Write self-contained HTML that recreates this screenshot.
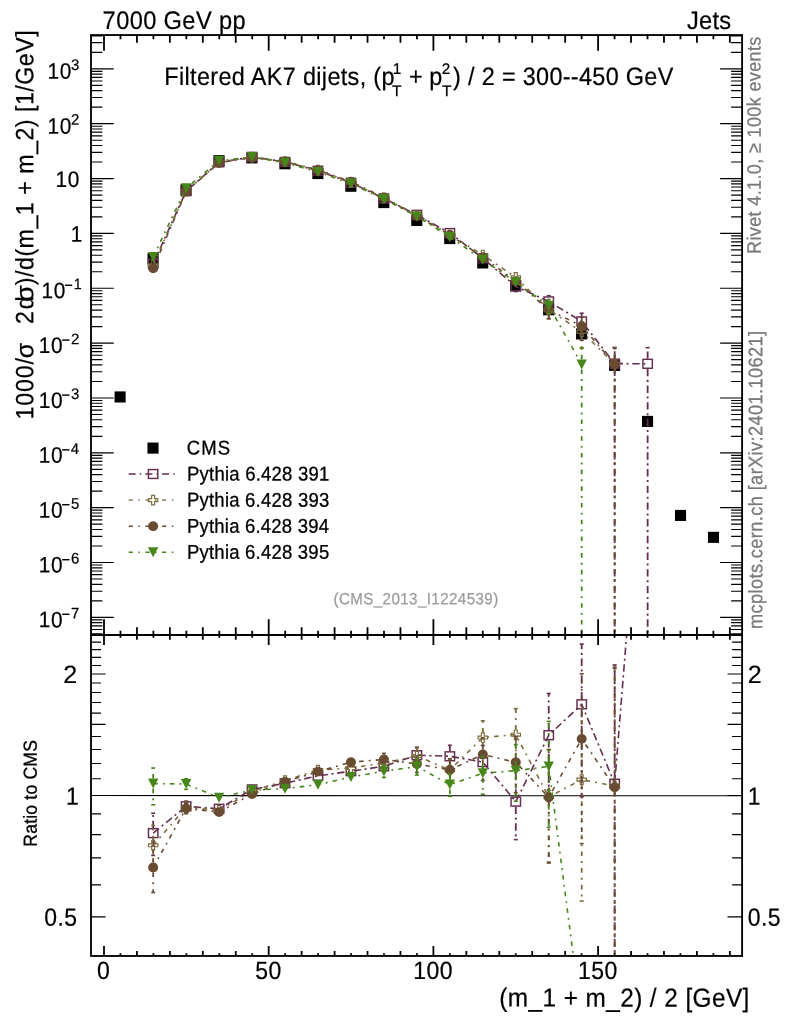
<!DOCTYPE html>
<html lang="en">
<head>
<meta charset="utf-8">
<title>Filtered AK7 dijets</title>
<style>
html,body{margin:0;padding:0;background:#fff;}
body{width:786px;height:1024px;overflow:hidden;font-family:"Liberation Sans",Arial,Helvetica,sans-serif;}
svg{display:block;}
</style>
</head>
<body>
<svg width="786" height="1024" viewBox="0 0 786 1024" font-family="'Liberation Sans', Arial, Helvetica, sans-serif">
<rect width="786" height="1024" fill="#fff"/>
<defs>
<clipPath id="cm"><rect x="91.0" y="35.05" width="651.1" height="599.9000000000001"/></clipPath>
<clipPath id="cr"><rect x="91.0" y="634.95" width="651.1" height="321.02"/></clipPath>
</defs>
<g id="main-data">
<rect x="114.55" y="391.40" width="11.1" height="11.1" fill="#000"/>
<rect x="147.52" y="253.20" width="11.1" height="11.1" fill="#000"/>
<rect x="180.48" y="184.30" width="11.1" height="11.1" fill="#000"/>
<rect x="213.45" y="155.10" width="11.1" height="11.1" fill="#000"/>
<rect x="246.41" y="152.30" width="11.1" height="11.1" fill="#000"/>
<rect x="279.38" y="158.20" width="11.1" height="11.1" fill="#000"/>
<rect x="312.34" y="168.00" width="11.1" height="11.1" fill="#000"/>
<rect x="345.31" y="180.70" width="11.1" height="11.1" fill="#000"/>
<rect x="378.27" y="197.00" width="11.1" height="11.1" fill="#000"/>
<rect x="411.24" y="214.90" width="11.1" height="11.1" fill="#000"/>
<rect x="444.20" y="233.00" width="11.1" height="11.1" fill="#000"/>
<rect x="477.17" y="257.40" width="11.1" height="11.1" fill="#000"/>
<rect x="510.13" y="280.20" width="11.1" height="11.1" fill="#000"/>
<rect x="543.10" y="304.20" width="11.1" height="11.1" fill="#000"/>
<rect x="576.06" y="328.40" width="11.1" height="11.1" fill="#000"/>
<rect x="609.03" y="359.80" width="11.1" height="11.1" fill="#000"/>
<rect x="641.99" y="415.85" width="11.1" height="11.1" fill="#000"/>
<rect x="674.96" y="509.90" width="11.1" height="11.1" fill="#000"/>
<rect x="707.92" y="531.80" width="11.1" height="11.1" fill="#000"/>
<g clip-path="url(#cm)" stroke="#652d4f" stroke-width="1.6" fill="none">
<polyline points="153.17,263.72 186.13,191.17 219.10,162.31 252.06,156.88 285.03,161.93 317.99,170.73 350.96,182.80 383.92,198.43 416.89,214.82 449.85,233.07 482.82,258.26 515.78,286.44 548.75,301.40 581.71,321.40 614.68,363.60 647.64,363.80" stroke-dasharray="7.4 3.6 2.1 3.6"/>
<line x1="515.78" y1="291.44" x2="515.78" y2="291.60" stroke-width="1.8" stroke-dasharray="7.4 3.6 2.1 3.6"/>
<line x1="513.78" y1="291.60" x2="517.78" y2="291.60"/>
<line x1="548.75" y1="296.40" x2="548.75" y2="295.73" stroke-width="1.8" stroke-dasharray="7.4 3.6 2.1 3.6"/>
<line x1="546.75" y1="295.73" x2="550.75" y2="295.73"/>
<line x1="548.75" y1="306.40" x2="548.75" y2="308.87" stroke-width="1.8" stroke-dasharray="7.4 3.6 2.1 3.6"/>
<line x1="546.75" y1="308.87" x2="550.75" y2="308.87"/>
<line x1="581.71" y1="316.40" x2="581.71" y2="313.22" stroke-width="1.8" stroke-dasharray="7.4 3.6 2.1 3.6"/>
<line x1="579.71" y1="313.22" x2="583.71" y2="313.22"/>
<line x1="581.71" y1="326.40" x2="581.71" y2="333.97" stroke-width="1.8" stroke-dasharray="7.4 3.6 2.1 3.6"/>
<line x1="579.71" y1="333.97" x2="583.71" y2="333.97"/>
<line x1="614.68" y1="358.60" x2="614.68" y2="347.45" stroke-width="1.8" stroke-dasharray="7.4 3.6 2.1 3.6"/>
<line x1="612.68" y1="347.45" x2="616.68" y2="347.45"/>
<line x1="614.68" y1="368.60" x2="614.68" y2="634.95" stroke-width="1.8" stroke-dasharray="7.4 3.6 2.1 3.6"/>
<line x1="647.64" y1="358.80" x2="647.64" y2="347.65" stroke-width="1.8" stroke-dasharray="7.4 3.6 2.1 3.6"/>
<line x1="645.64" y1="347.65" x2="649.64" y2="347.65"/>
<line x1="647.64" y1="368.80" x2="647.64" y2="634.95" stroke-width="1.8" stroke-dasharray="7.4 3.6 2.1 3.6"/>
</g>
<g clip-path="url(#cm)">
<rect x="148.47" y="259.27" width="9.4" height="8.9" fill="none" stroke="#652d4f" stroke-width="1.45"/>
<rect x="181.43" y="186.72" width="9.4" height="8.9" fill="none" stroke="#652d4f" stroke-width="1.45"/>
<rect x="214.40" y="157.86" width="9.4" height="8.9" fill="none" stroke="#652d4f" stroke-width="1.45"/>
<rect x="247.36" y="152.43" width="9.4" height="8.9" fill="none" stroke="#652d4f" stroke-width="1.45"/>
<rect x="280.33" y="157.48" width="9.4" height="8.9" fill="none" stroke="#652d4f" stroke-width="1.45"/>
<rect x="313.29" y="166.28" width="9.4" height="8.9" fill="none" stroke="#652d4f" stroke-width="1.45"/>
<rect x="346.26" y="178.35" width="9.4" height="8.9" fill="none" stroke="#652d4f" stroke-width="1.45"/>
<rect x="379.22" y="193.98" width="9.4" height="8.9" fill="none" stroke="#652d4f" stroke-width="1.45"/>
<rect x="412.19" y="210.37" width="9.4" height="8.9" fill="none" stroke="#652d4f" stroke-width="1.45"/>
<rect x="445.15" y="228.62" width="9.4" height="8.9" fill="none" stroke="#652d4f" stroke-width="1.45"/>
<rect x="478.12" y="253.81" width="9.4" height="8.9" fill="none" stroke="#652d4f" stroke-width="1.45"/>
<rect x="511.08" y="281.99" width="9.4" height="8.9" fill="none" stroke="#652d4f" stroke-width="1.45"/>
<rect x="544.05" y="296.95" width="9.4" height="8.9" fill="none" stroke="#652d4f" stroke-width="1.45"/>
<rect x="577.01" y="316.95" width="9.4" height="8.9" fill="none" stroke="#652d4f" stroke-width="1.45"/>
<rect x="609.98" y="359.15" width="9.4" height="8.9" fill="none" stroke="#652d4f" stroke-width="1.45"/>
<rect x="642.94" y="359.35" width="9.4" height="8.9" fill="none" stroke="#652d4f" stroke-width="1.45"/>
</g>
<g clip-path="url(#cm)" stroke="#7b6c3b" stroke-width="1.6" fill="none">
<polyline points="153.17,265.38 186.13,191.32 219.10,162.52 252.06,157.13 285.03,161.58 317.99,169.94 350.96,182.37 383.92,197.99 416.89,214.93 449.85,234.94 482.82,254.92 515.78,277.34 548.75,309.81 581.71,331.64 614.68,363.91" stroke-dasharray="4.6 5.1 1.9 5.1"/>
<line x1="548.75" y1="304.81" x2="548.75" y2="303.38" stroke-width="1.8" stroke-dasharray="4.6 5.1 1.9 5.1"/>
<line x1="546.75" y1="303.38" x2="550.75" y2="303.38"/>
<line x1="548.75" y1="314.81" x2="548.75" y2="318.65" stroke-width="1.8" stroke-dasharray="4.6 5.1 1.9 5.1"/>
<line x1="546.75" y1="318.65" x2="550.75" y2="318.65"/>
<line x1="581.71" y1="326.64" x2="581.71" y2="321.98" stroke-width="1.8" stroke-dasharray="4.6 5.1 1.9 5.1"/>
<line x1="579.71" y1="321.98" x2="583.71" y2="321.98"/>
<line x1="581.71" y1="336.64" x2="581.71" y2="348.16" stroke-width="1.8" stroke-dasharray="4.6 5.1 1.9 5.1"/>
<line x1="579.71" y1="348.16" x2="583.71" y2="348.16"/>
<line x1="614.68" y1="358.91" x2="614.68" y2="347.76" stroke-width="1.8" stroke-dasharray="4.6 5.1 1.9 5.1"/>
<line x1="612.68" y1="347.76" x2="616.68" y2="347.76"/>
<line x1="614.68" y1="368.91" x2="614.68" y2="634.95" stroke-width="1.8" stroke-dasharray="4.6 5.1 1.9 5.1"/>
</g>
<g clip-path="url(#cm)">
<polygon points="151.72,260.68 154.62,260.68 154.62,263.93 157.87,263.93 157.87,266.83 154.62,266.83 154.62,270.08 151.72,270.08 151.72,266.83 148.47,266.83 148.47,263.93 151.72,263.93" fill="none" stroke="#7b6c3b" stroke-width="1.15"/>
<polygon points="184.68,186.62 187.58,186.62 187.58,189.87 190.83,189.87 190.83,192.77 187.58,192.77 187.58,196.02 184.68,196.02 184.68,192.77 181.43,192.77 181.43,189.87 184.68,189.87" fill="none" stroke="#7b6c3b" stroke-width="1.15"/>
<polygon points="217.65,157.82 220.55,157.82 220.55,161.07 223.80,161.07 223.80,163.97 220.55,163.97 220.55,167.22 217.65,167.22 217.65,163.97 214.40,163.97 214.40,161.07 217.65,161.07" fill="none" stroke="#7b6c3b" stroke-width="1.15"/>
<polygon points="250.61,152.43 253.51,152.43 253.51,155.68 256.76,155.68 256.76,158.58 253.51,158.58 253.51,161.83 250.61,161.83 250.61,158.58 247.36,158.58 247.36,155.68 250.61,155.68" fill="none" stroke="#7b6c3b" stroke-width="1.15"/>
<polygon points="283.58,156.88 286.48,156.88 286.48,160.13 289.73,160.13 289.73,163.03 286.48,163.03 286.48,166.28 283.58,166.28 283.58,163.03 280.33,163.03 280.33,160.13 283.58,160.13" fill="none" stroke="#7b6c3b" stroke-width="1.15"/>
<polygon points="316.54,165.24 319.44,165.24 319.44,168.49 322.69,168.49 322.69,171.39 319.44,171.39 319.44,174.64 316.54,174.64 316.54,171.39 313.29,171.39 313.29,168.49 316.54,168.49" fill="none" stroke="#7b6c3b" stroke-width="1.15"/>
<polygon points="349.51,177.67 352.41,177.67 352.41,180.92 355.66,180.92 355.66,183.82 352.41,183.82 352.41,187.07 349.51,187.07 349.51,183.82 346.26,183.82 346.26,180.92 349.51,180.92" fill="none" stroke="#7b6c3b" stroke-width="1.15"/>
<polygon points="382.47,193.29 385.37,193.29 385.37,196.54 388.62,196.54 388.62,199.44 385.37,199.44 385.37,202.69 382.47,202.69 382.47,199.44 379.22,199.44 379.22,196.54 382.47,196.54" fill="none" stroke="#7b6c3b" stroke-width="1.15"/>
<polygon points="415.44,210.23 418.34,210.23 418.34,213.48 421.59,213.48 421.59,216.38 418.34,216.38 418.34,219.63 415.44,219.63 415.44,216.38 412.19,216.38 412.19,213.48 415.44,213.48" fill="none" stroke="#7b6c3b" stroke-width="1.15"/>
<polygon points="448.40,230.24 451.30,230.24 451.30,233.49 454.55,233.49 454.55,236.39 451.30,236.39 451.30,239.64 448.40,239.64 448.40,236.39 445.15,236.39 445.15,233.49 448.40,233.49" fill="none" stroke="#7b6c3b" stroke-width="1.15"/>
<polygon points="481.37,250.22 484.27,250.22 484.27,253.47 487.52,253.47 487.52,256.37 484.27,256.37 484.27,259.62 481.37,259.62 481.37,256.37 478.12,256.37 478.12,253.47 481.37,253.47" fill="none" stroke="#7b6c3b" stroke-width="1.15"/>
<polygon points="514.33,272.64 517.23,272.64 517.23,275.89 520.48,275.89 520.48,278.79 517.23,278.79 517.23,282.04 514.33,282.04 514.33,278.79 511.08,278.79 511.08,275.89 514.33,275.89" fill="none" stroke="#7b6c3b" stroke-width="1.15"/>
<polygon points="547.30,305.11 550.20,305.11 550.20,308.36 553.45,308.36 553.45,311.26 550.20,311.26 550.20,314.51 547.30,314.51 547.30,311.26 544.05,311.26 544.05,308.36 547.30,308.36" fill="none" stroke="#7b6c3b" stroke-width="1.15"/>
<polygon points="580.26,326.94 583.16,326.94 583.16,330.19 586.41,330.19 586.41,333.09 583.16,333.09 583.16,336.34 580.26,336.34 580.26,333.09 577.01,333.09 577.01,330.19 580.26,330.19" fill="none" stroke="#7b6c3b" stroke-width="1.15"/>
<polygon points="613.23,359.21 616.13,359.21 616.13,362.46 619.38,362.46 619.38,365.36 616.13,365.36 616.13,368.61 613.23,368.61 613.23,365.36 609.98,365.36 609.98,362.46 613.23,362.46" fill="none" stroke="#7b6c3b" stroke-width="1.15"/>
</g>
<g clip-path="url(#cm)" stroke="#694b31" stroke-width="1.6" fill="none">
<polyline points="153.17,268.40 186.13,191.46 219.10,162.76 252.06,157.52 285.03,161.74 317.99,170.16 350.96,181.58 383.92,197.50 416.89,216.02 449.85,234.92 482.82,257.23 515.78,281.09 548.75,309.85 581.71,326.11 614.68,364.08" stroke-dasharray="4.6 5.1 1.9 5.1"/>
<line x1="548.75" y1="304.85" x2="548.75" y2="303.36" stroke-width="1.8" stroke-dasharray="4.6 5.1 1.9 5.1"/>
<line x1="546.75" y1="303.36" x2="550.75" y2="303.36"/>
<line x1="548.75" y1="314.85" x2="548.75" y2="318.79" stroke-width="1.8" stroke-dasharray="4.6 5.1 1.9 5.1"/>
<line x1="546.75" y1="318.79" x2="550.75" y2="318.79"/>
<line x1="581.71" y1="321.11" x2="581.71" y2="317.26" stroke-width="1.8" stroke-dasharray="4.6 5.1 1.9 5.1"/>
<line x1="579.71" y1="317.26" x2="583.71" y2="317.26"/>
<line x1="581.71" y1="331.11" x2="581.71" y2="340.35" stroke-width="1.8" stroke-dasharray="4.6 5.1 1.9 5.1"/>
<line x1="579.71" y1="340.35" x2="583.71" y2="340.35"/>
<line x1="614.68" y1="359.08" x2="614.68" y2="347.92" stroke-width="1.8" stroke-dasharray="4.6 5.1 1.9 5.1"/>
<line x1="612.68" y1="347.92" x2="616.68" y2="347.92"/>
<line x1="614.68" y1="369.08" x2="614.68" y2="634.95" stroke-width="1.8" stroke-dasharray="4.6 5.1 1.9 5.1"/>
</g>
<g clip-path="url(#cm)">
<ellipse cx="153.17" cy="268.40" rx="5.0" ry="4.9" fill="#694b31"/>
<ellipse cx="186.13" cy="191.46" rx="5.0" ry="4.9" fill="#694b31"/>
<ellipse cx="219.10" cy="162.76" rx="5.0" ry="4.9" fill="#694b31"/>
<ellipse cx="252.06" cy="157.52" rx="5.0" ry="4.9" fill="#694b31"/>
<ellipse cx="285.03" cy="161.74" rx="5.0" ry="4.9" fill="#694b31"/>
<ellipse cx="317.99" cy="170.16" rx="5.0" ry="4.9" fill="#694b31"/>
<ellipse cx="350.96" cy="181.58" rx="5.0" ry="4.9" fill="#694b31"/>
<ellipse cx="383.92" cy="197.50" rx="5.0" ry="4.9" fill="#694b31"/>
<ellipse cx="416.89" cy="216.02" rx="5.0" ry="4.9" fill="#694b31"/>
<ellipse cx="449.85" cy="234.92" rx="5.0" ry="4.9" fill="#694b31"/>
<ellipse cx="482.82" cy="257.23" rx="5.0" ry="4.9" fill="#694b31"/>
<ellipse cx="515.78" cy="281.09" rx="5.0" ry="4.9" fill="#694b31"/>
<ellipse cx="548.75" cy="309.85" rx="5.0" ry="4.9" fill="#694b31"/>
<ellipse cx="581.71" cy="326.11" rx="5.0" ry="4.9" fill="#694b31"/>
<ellipse cx="614.68" cy="364.08" rx="5.0" ry="4.9" fill="#694b31"/>
</g>
<g clip-path="url(#cm)" stroke="#47871a" stroke-width="1.6" fill="none">
<polyline points="153.17,256.99 186.13,188.14 219.10,160.80 252.06,156.96 285.03,162.68 317.99,171.94 350.96,183.59 383.92,199.10 416.89,216.38 449.85,236.92 482.82,259.77 515.78,282.23 548.75,305.65 581.71,364.40" stroke-dasharray="4.6 5.1 1.9 5.1"/>
<line x1="548.75" y1="300.65" x2="548.75" y2="299.53" stroke-width="1.8" stroke-dasharray="4.6 5.1 1.9 5.1"/>
<line x1="546.75" y1="299.53" x2="550.75" y2="299.53"/>
<line x1="548.75" y1="310.65" x2="548.75" y2="313.91" stroke-width="1.8" stroke-dasharray="4.6 5.1 1.9 5.1"/>
<line x1="546.75" y1="313.91" x2="550.75" y2="313.91"/>
<line x1="581.71" y1="359.40" x2="581.71" y2="348.01" stroke-width="1.8" stroke-dasharray="4.6 5.1 1.9 5.1"/>
<line x1="579.71" y1="348.01" x2="583.71" y2="348.01"/>
<line x1="581.71" y1="369.40" x2="581.71" y2="634.95" stroke-width="1.8" stroke-dasharray="4.6 5.1 1.9 5.1"/>
</g>
<g clip-path="url(#cm)">
<polygon points="147.97,251.99 158.37,251.99 153.17,261.99" fill="#47871a"/>
<polygon points="180.93,183.14 191.33,183.14 186.13,193.14" fill="#47871a"/>
<polygon points="213.90,155.80 224.30,155.80 219.10,165.80" fill="#47871a"/>
<polygon points="246.86,151.96 257.26,151.96 252.06,161.96" fill="#47871a"/>
<polygon points="279.83,157.68 290.23,157.68 285.03,167.68" fill="#47871a"/>
<polygon points="312.79,166.94 323.19,166.94 317.99,176.94" fill="#47871a"/>
<polygon points="345.76,178.59 356.16,178.59 350.96,188.59" fill="#47871a"/>
<polygon points="378.72,194.10 389.12,194.10 383.92,204.10" fill="#47871a"/>
<polygon points="411.69,211.38 422.09,211.38 416.89,221.38" fill="#47871a"/>
<polygon points="444.65,231.92 455.05,231.92 449.85,241.92" fill="#47871a"/>
<polygon points="477.62,254.77 488.02,254.77 482.82,264.77" fill="#47871a"/>
<polygon points="510.58,277.23 520.98,277.23 515.78,287.23" fill="#47871a"/>
<polygon points="543.55,300.65 553.95,300.65 548.75,310.65" fill="#47871a"/>
<polygon points="576.51,359.40 586.91,359.40 581.71,369.40" fill="#47871a"/>
</g>
</g>
<g id="ratio-data">
<line x1="91.0" y1="795.5" x2="742.1" y2="795.8" stroke="#000" stroke-width="1.1"/>
<g clip-path="url(#cr)" stroke="#652d4f" stroke-width="1.6" fill="none">
<polyline points="153.17,833.10 186.13,806.30 219.10,808.80 252.06,789.40 285.03,783.20 317.99,775.80 350.96,771.20 383.92,766.30 416.89,755.20 449.85,756.30 482.82,762.10 515.78,801.60 548.75,735.20 581.71,704.30 614.68,783.70 647.64,373.02" stroke-dasharray="7.4 3.6 2.1 3.6"/>
<line x1="153.17" y1="828.10" x2="153.17" y2="813.25" stroke-width="1.8" stroke-dasharray="7.4 3.6 2.1 3.6"/>
<line x1="151.17" y1="813.25" x2="155.17" y2="813.25"/>
<line x1="153.17" y1="838.10" x2="153.17" y2="855.49" stroke-width="1.8" stroke-dasharray="7.4 3.6 2.1 3.6"/>
<line x1="151.17" y1="855.49" x2="155.17" y2="855.49"/>
<line x1="186.13" y1="801.30" x2="186.13" y2="801.12" stroke-width="1.8" stroke-dasharray="7.4 3.6 2.1 3.6"/>
<line x1="184.13" y1="801.12" x2="188.13" y2="801.12"/>
<line x1="186.13" y1="811.30" x2="186.13" y2="811.64" stroke-width="1.8" stroke-dasharray="7.4 3.6 2.1 3.6"/>
<line x1="184.13" y1="811.64" x2="188.13" y2="811.64"/>
<line x1="383.92" y1="761.30" x2="383.92" y2="760.27" stroke-width="1.8" stroke-dasharray="7.4 3.6 2.1 3.6"/>
<line x1="381.92" y1="760.27" x2="385.92" y2="760.27"/>
<line x1="383.92" y1="771.30" x2="383.92" y2="772.54" stroke-width="1.8" stroke-dasharray="7.4 3.6 2.1 3.6"/>
<line x1="381.92" y1="772.54" x2="385.92" y2="772.54"/>
<line x1="416.89" y1="750.20" x2="416.89" y2="747.15" stroke-width="1.8" stroke-dasharray="7.4 3.6 2.1 3.6"/>
<line x1="414.89" y1="747.15" x2="418.89" y2="747.15"/>
<line x1="416.89" y1="760.20" x2="416.89" y2="763.63" stroke-width="1.8" stroke-dasharray="7.4 3.6 2.1 3.6"/>
<line x1="414.89" y1="763.63" x2="418.89" y2="763.63"/>
<line x1="449.85" y1="751.30" x2="449.85" y2="745.27" stroke-width="1.8" stroke-dasharray="7.4 3.6 2.1 3.6"/>
<line x1="447.85" y1="745.27" x2="451.85" y2="745.27"/>
<line x1="449.85" y1="761.30" x2="449.85" y2="768.07" stroke-width="1.8" stroke-dasharray="7.4 3.6 2.1 3.6"/>
<line x1="447.85" y1="768.07" x2="451.85" y2="768.07"/>
<line x1="482.82" y1="757.10" x2="482.82" y2="745.40" stroke-width="1.8" stroke-dasharray="7.4 3.6 2.1 3.6"/>
<line x1="480.82" y1="745.40" x2="484.82" y2="745.40"/>
<line x1="482.82" y1="767.10" x2="482.82" y2="780.56" stroke-width="1.8" stroke-dasharray="7.4 3.6 2.1 3.6"/>
<line x1="480.82" y1="780.56" x2="484.82" y2="780.56"/>
<line x1="515.78" y1="796.60" x2="515.78" y2="770.39" stroke-width="1.8" stroke-dasharray="7.4 3.6 2.1 3.6"/>
<line x1="513.78" y1="770.39" x2="517.78" y2="770.39"/>
<line x1="515.78" y1="806.60" x2="515.78" y2="839.60" stroke-width="1.8" stroke-dasharray="7.4 3.6 2.1 3.6"/>
<line x1="513.78" y1="839.60" x2="517.78" y2="839.60"/>
<line x1="548.75" y1="730.20" x2="548.75" y2="693.47" stroke-width="1.8" stroke-dasharray="7.4 3.6 2.1 3.6"/>
<line x1="546.75" y1="693.47" x2="550.75" y2="693.47"/>
<line x1="548.75" y1="740.20" x2="548.75" y2="790.09" stroke-width="1.8" stroke-dasharray="7.4 3.6 2.1 3.6"/>
<line x1="546.75" y1="790.09" x2="550.75" y2="790.09"/>
<line x1="581.71" y1="699.30" x2="581.71" y2="644.11" stroke-width="1.8" stroke-dasharray="7.4 3.6 2.1 3.6"/>
<line x1="579.71" y1="644.11" x2="583.71" y2="644.11"/>
<line x1="581.71" y1="709.30" x2="581.71" y2="796.73" stroke-width="1.8" stroke-dasharray="7.4 3.6 2.1 3.6"/>
<line x1="579.71" y1="796.73" x2="583.71" y2="796.73"/>
<line x1="614.68" y1="778.70" x2="614.68" y2="664.93" stroke-width="1.8" stroke-dasharray="7.4 3.6 2.1 3.6"/>
<line x1="612.68" y1="664.93" x2="616.68" y2="664.93"/>
<line x1="614.68" y1="788.70" x2="614.68" y2="955.97" stroke-width="1.8" stroke-dasharray="7.4 3.6 2.1 3.6"/>
</g>
<g clip-path="url(#cr)">
<rect x="148.47" y="828.65" width="9.4" height="8.9" fill="none" stroke="#652d4f" stroke-width="1.45"/>
<rect x="181.43" y="801.85" width="9.4" height="8.9" fill="none" stroke="#652d4f" stroke-width="1.45"/>
<rect x="214.40" y="804.35" width="9.4" height="8.9" fill="none" stroke="#652d4f" stroke-width="1.45"/>
<rect x="247.36" y="784.95" width="9.4" height="8.9" fill="none" stroke="#652d4f" stroke-width="1.45"/>
<rect x="280.33" y="778.75" width="9.4" height="8.9" fill="none" stroke="#652d4f" stroke-width="1.45"/>
<rect x="313.29" y="771.35" width="9.4" height="8.9" fill="none" stroke="#652d4f" stroke-width="1.45"/>
<rect x="346.26" y="766.75" width="9.4" height="8.9" fill="none" stroke="#652d4f" stroke-width="1.45"/>
<rect x="379.22" y="761.85" width="9.4" height="8.9" fill="none" stroke="#652d4f" stroke-width="1.45"/>
<rect x="412.19" y="750.75" width="9.4" height="8.9" fill="none" stroke="#652d4f" stroke-width="1.45"/>
<rect x="445.15" y="751.85" width="9.4" height="8.9" fill="none" stroke="#652d4f" stroke-width="1.45"/>
<rect x="478.12" y="757.65" width="9.4" height="8.9" fill="none" stroke="#652d4f" stroke-width="1.45"/>
<rect x="511.08" y="797.15" width="9.4" height="8.9" fill="none" stroke="#652d4f" stroke-width="1.45"/>
<rect x="544.05" y="730.75" width="9.4" height="8.9" fill="none" stroke="#652d4f" stroke-width="1.45"/>
<rect x="577.01" y="699.85" width="9.4" height="8.9" fill="none" stroke="#652d4f" stroke-width="1.45"/>
<rect x="609.98" y="779.25" width="9.4" height="8.9" fill="none" stroke="#652d4f" stroke-width="1.45"/>
</g>
<g clip-path="url(#cr)" stroke="#7b6c3b" stroke-width="1.6" fill="none">
<polyline points="153.17,845.30 186.13,807.40 219.10,810.30 252.06,791.30 285.03,780.60 317.99,770.00 350.96,768.00 383.92,763.00 416.89,756.00 449.85,770.00 482.82,737.50 515.78,734.70 548.75,797.00 581.71,779.60 614.68,786.00" stroke-dasharray="4.6 5.1 1.9 5.1"/>
<line x1="153.17" y1="840.30" x2="153.17" y2="825.45" stroke-width="1.8" stroke-dasharray="4.6 5.1 1.9 5.1"/>
<line x1="151.17" y1="825.45" x2="155.17" y2="825.45"/>
<line x1="153.17" y1="850.30" x2="153.17" y2="867.69" stroke-width="1.8" stroke-dasharray="4.6 5.1 1.9 5.1"/>
<line x1="151.17" y1="867.69" x2="155.17" y2="867.69"/>
<line x1="186.13" y1="802.40" x2="186.13" y2="802.22" stroke-width="1.8" stroke-dasharray="4.6 5.1 1.9 5.1"/>
<line x1="184.13" y1="802.22" x2="188.13" y2="802.22"/>
<line x1="186.13" y1="812.40" x2="186.13" y2="812.74" stroke-width="1.8" stroke-dasharray="4.6 5.1 1.9 5.1"/>
<line x1="184.13" y1="812.74" x2="188.13" y2="812.74"/>
<line x1="383.92" y1="758.00" x2="383.92" y2="756.97" stroke-width="1.8" stroke-dasharray="4.6 5.1 1.9 5.1"/>
<line x1="381.92" y1="756.97" x2="385.92" y2="756.97"/>
<line x1="383.92" y1="768.00" x2="383.92" y2="769.24" stroke-width="1.8" stroke-dasharray="4.6 5.1 1.9 5.1"/>
<line x1="381.92" y1="769.24" x2="385.92" y2="769.24"/>
<line x1="416.89" y1="751.00" x2="416.89" y2="747.95" stroke-width="1.8" stroke-dasharray="4.6 5.1 1.9 5.1"/>
<line x1="414.89" y1="747.95" x2="418.89" y2="747.95"/>
<line x1="416.89" y1="761.00" x2="416.89" y2="764.43" stroke-width="1.8" stroke-dasharray="4.6 5.1 1.9 5.1"/>
<line x1="414.89" y1="764.43" x2="418.89" y2="764.43"/>
<line x1="449.85" y1="765.00" x2="449.85" y2="758.97" stroke-width="1.8" stroke-dasharray="4.6 5.1 1.9 5.1"/>
<line x1="447.85" y1="758.97" x2="451.85" y2="758.97"/>
<line x1="449.85" y1="775.00" x2="449.85" y2="781.77" stroke-width="1.8" stroke-dasharray="4.6 5.1 1.9 5.1"/>
<line x1="447.85" y1="781.77" x2="451.85" y2="781.77"/>
<line x1="482.82" y1="732.50" x2="482.82" y2="720.80" stroke-width="1.8" stroke-dasharray="4.6 5.1 1.9 5.1"/>
<line x1="480.82" y1="720.80" x2="484.82" y2="720.80"/>
<line x1="482.82" y1="742.50" x2="482.82" y2="755.96" stroke-width="1.8" stroke-dasharray="4.6 5.1 1.9 5.1"/>
<line x1="480.82" y1="755.96" x2="484.82" y2="755.96"/>
<line x1="515.78" y1="729.70" x2="515.78" y2="708.70" stroke-width="1.8" stroke-dasharray="4.6 5.1 1.9 5.1"/>
<line x1="513.78" y1="708.70" x2="517.78" y2="708.70"/>
<line x1="515.78" y1="739.70" x2="515.78" y2="765.24" stroke-width="1.8" stroke-dasharray="4.6 5.1 1.9 5.1"/>
<line x1="513.78" y1="765.24" x2="517.78" y2="765.24"/>
<line x1="548.75" y1="792.00" x2="548.75" y2="749.70" stroke-width="1.8" stroke-dasharray="4.6 5.1 1.9 5.1"/>
<line x1="546.75" y1="749.70" x2="550.75" y2="749.70"/>
<line x1="548.75" y1="802.00" x2="548.75" y2="862.00" stroke-width="1.8" stroke-dasharray="4.6 5.1 1.9 5.1"/>
<line x1="546.75" y1="862.00" x2="550.75" y2="862.00"/>
<line x1="581.71" y1="774.60" x2="581.71" y2="708.57" stroke-width="1.8" stroke-dasharray="4.6 5.1 1.9 5.1"/>
<line x1="579.71" y1="708.57" x2="583.71" y2="708.57"/>
<line x1="581.71" y1="784.60" x2="581.71" y2="901.02" stroke-width="1.8" stroke-dasharray="4.6 5.1 1.9 5.1"/>
<line x1="579.71" y1="901.02" x2="583.71" y2="901.02"/>
<line x1="614.68" y1="781.00" x2="614.68" y2="667.23" stroke-width="1.8" stroke-dasharray="4.6 5.1 1.9 5.1"/>
<line x1="612.68" y1="667.23" x2="616.68" y2="667.23"/>
<line x1="614.68" y1="791.00" x2="614.68" y2="955.97" stroke-width="1.8" stroke-dasharray="4.6 5.1 1.9 5.1"/>
</g>
<g clip-path="url(#cr)">
<polygon points="151.72,840.60 154.62,840.60 154.62,843.85 157.87,843.85 157.87,846.75 154.62,846.75 154.62,850.00 151.72,850.00 151.72,846.75 148.47,846.75 148.47,843.85 151.72,843.85" fill="none" stroke="#7b6c3b" stroke-width="1.15"/>
<polygon points="184.68,802.70 187.58,802.70 187.58,805.95 190.83,805.95 190.83,808.85 187.58,808.85 187.58,812.10 184.68,812.10 184.68,808.85 181.43,808.85 181.43,805.95 184.68,805.95" fill="none" stroke="#7b6c3b" stroke-width="1.15"/>
<polygon points="217.65,805.60 220.55,805.60 220.55,808.85 223.80,808.85 223.80,811.75 220.55,811.75 220.55,815.00 217.65,815.00 217.65,811.75 214.40,811.75 214.40,808.85 217.65,808.85" fill="none" stroke="#7b6c3b" stroke-width="1.15"/>
<polygon points="250.61,786.60 253.51,786.60 253.51,789.85 256.76,789.85 256.76,792.75 253.51,792.75 253.51,796.00 250.61,796.00 250.61,792.75 247.36,792.75 247.36,789.85 250.61,789.85" fill="none" stroke="#7b6c3b" stroke-width="1.15"/>
<polygon points="283.58,775.90 286.48,775.90 286.48,779.15 289.73,779.15 289.73,782.05 286.48,782.05 286.48,785.30 283.58,785.30 283.58,782.05 280.33,782.05 280.33,779.15 283.58,779.15" fill="none" stroke="#7b6c3b" stroke-width="1.15"/>
<polygon points="316.54,765.30 319.44,765.30 319.44,768.55 322.69,768.55 322.69,771.45 319.44,771.45 319.44,774.70 316.54,774.70 316.54,771.45 313.29,771.45 313.29,768.55 316.54,768.55" fill="none" stroke="#7b6c3b" stroke-width="1.15"/>
<polygon points="349.51,763.30 352.41,763.30 352.41,766.55 355.66,766.55 355.66,769.45 352.41,769.45 352.41,772.70 349.51,772.70 349.51,769.45 346.26,769.45 346.26,766.55 349.51,766.55" fill="none" stroke="#7b6c3b" stroke-width="1.15"/>
<polygon points="382.47,758.30 385.37,758.30 385.37,761.55 388.62,761.55 388.62,764.45 385.37,764.45 385.37,767.70 382.47,767.70 382.47,764.45 379.22,764.45 379.22,761.55 382.47,761.55" fill="none" stroke="#7b6c3b" stroke-width="1.15"/>
<polygon points="415.44,751.30 418.34,751.30 418.34,754.55 421.59,754.55 421.59,757.45 418.34,757.45 418.34,760.70 415.44,760.70 415.44,757.45 412.19,757.45 412.19,754.55 415.44,754.55" fill="none" stroke="#7b6c3b" stroke-width="1.15"/>
<polygon points="448.40,765.30 451.30,765.30 451.30,768.55 454.55,768.55 454.55,771.45 451.30,771.45 451.30,774.70 448.40,774.70 448.40,771.45 445.15,771.45 445.15,768.55 448.40,768.55" fill="none" stroke="#7b6c3b" stroke-width="1.15"/>
<polygon points="481.37,732.80 484.27,732.80 484.27,736.05 487.52,736.05 487.52,738.95 484.27,738.95 484.27,742.20 481.37,742.20 481.37,738.95 478.12,738.95 478.12,736.05 481.37,736.05" fill="none" stroke="#7b6c3b" stroke-width="1.15"/>
<polygon points="514.33,730.00 517.23,730.00 517.23,733.25 520.48,733.25 520.48,736.15 517.23,736.15 517.23,739.40 514.33,739.40 514.33,736.15 511.08,736.15 511.08,733.25 514.33,733.25" fill="none" stroke="#7b6c3b" stroke-width="1.15"/>
<polygon points="547.30,792.30 550.20,792.30 550.20,795.55 553.45,795.55 553.45,798.45 550.20,798.45 550.20,801.70 547.30,801.70 547.30,798.45 544.05,798.45 544.05,795.55 547.30,795.55" fill="none" stroke="#7b6c3b" stroke-width="1.15"/>
<polygon points="580.26,774.90 583.16,774.90 583.16,778.15 586.41,778.15 586.41,781.05 583.16,781.05 583.16,784.30 580.26,784.30 580.26,781.05 577.01,781.05 577.01,778.15 580.26,778.15" fill="none" stroke="#7b6c3b" stroke-width="1.15"/>
<polygon points="613.23,781.30 616.13,781.30 616.13,784.55 619.38,784.55 619.38,787.45 616.13,787.45 616.13,790.70 613.23,790.70 613.23,787.45 609.98,787.45 609.98,784.55 613.23,784.55" fill="none" stroke="#7b6c3b" stroke-width="1.15"/>
</g>
<g clip-path="url(#cr)" stroke="#694b31" stroke-width="1.6" fill="none">
<polyline points="153.17,867.50 186.13,808.40 219.10,812.10 252.06,794.10 285.03,781.80 317.99,771.60 350.96,762.20 383.92,759.40 416.89,764.00 449.85,769.90 482.82,754.50 515.78,762.30 548.75,797.30 581.71,738.90 614.68,787.20" stroke-dasharray="4.6 5.1 1.9 5.1"/>
<line x1="153.17" y1="862.50" x2="153.17" y2="846.09" stroke-width="1.8" stroke-dasharray="4.6 5.1 1.9 5.1"/>
<line x1="151.17" y1="846.09" x2="155.17" y2="846.09"/>
<line x1="153.17" y1="872.50" x2="153.17" y2="892.50" stroke-width="1.8" stroke-dasharray="4.6 5.1 1.9 5.1"/>
<line x1="151.17" y1="892.50" x2="155.17" y2="892.50"/>
<line x1="186.13" y1="803.40" x2="186.13" y2="803.22" stroke-width="1.8" stroke-dasharray="4.6 5.1 1.9 5.1"/>
<line x1="184.13" y1="803.22" x2="188.13" y2="803.22"/>
<line x1="186.13" y1="813.40" x2="186.13" y2="813.74" stroke-width="1.8" stroke-dasharray="4.6 5.1 1.9 5.1"/>
<line x1="184.13" y1="813.74" x2="188.13" y2="813.74"/>
<line x1="383.92" y1="754.40" x2="383.92" y2="753.37" stroke-width="1.8" stroke-dasharray="4.6 5.1 1.9 5.1"/>
<line x1="381.92" y1="753.37" x2="385.92" y2="753.37"/>
<line x1="383.92" y1="764.40" x2="383.92" y2="765.64" stroke-width="1.8" stroke-dasharray="4.6 5.1 1.9 5.1"/>
<line x1="381.92" y1="765.64" x2="385.92" y2="765.64"/>
<line x1="416.89" y1="759.00" x2="416.89" y2="755.95" stroke-width="1.8" stroke-dasharray="4.6 5.1 1.9 5.1"/>
<line x1="414.89" y1="755.95" x2="418.89" y2="755.95"/>
<line x1="416.89" y1="769.00" x2="416.89" y2="772.43" stroke-width="1.8" stroke-dasharray="4.6 5.1 1.9 5.1"/>
<line x1="414.89" y1="772.43" x2="418.89" y2="772.43"/>
<line x1="449.85" y1="764.90" x2="449.85" y2="758.87" stroke-width="1.8" stroke-dasharray="4.6 5.1 1.9 5.1"/>
<line x1="447.85" y1="758.87" x2="451.85" y2="758.87"/>
<line x1="449.85" y1="774.90" x2="449.85" y2="781.67" stroke-width="1.8" stroke-dasharray="4.6 5.1 1.9 5.1"/>
<line x1="447.85" y1="781.67" x2="451.85" y2="781.67"/>
<line x1="482.82" y1="749.50" x2="482.82" y2="737.80" stroke-width="1.8" stroke-dasharray="4.6 5.1 1.9 5.1"/>
<line x1="480.82" y1="737.80" x2="484.82" y2="737.80"/>
<line x1="482.82" y1="759.50" x2="482.82" y2="772.96" stroke-width="1.8" stroke-dasharray="4.6 5.1 1.9 5.1"/>
<line x1="480.82" y1="772.96" x2="484.82" y2="772.96"/>
<line x1="515.78" y1="757.30" x2="515.78" y2="736.30" stroke-width="1.8" stroke-dasharray="4.6 5.1 1.9 5.1"/>
<line x1="513.78" y1="736.30" x2="517.78" y2="736.30"/>
<line x1="515.78" y1="767.30" x2="515.78" y2="792.84" stroke-width="1.8" stroke-dasharray="4.6 5.1 1.9 5.1"/>
<line x1="513.78" y1="792.84" x2="517.78" y2="792.84"/>
<line x1="548.75" y1="792.30" x2="548.75" y2="749.60" stroke-width="1.8" stroke-dasharray="4.6 5.1 1.9 5.1"/>
<line x1="546.75" y1="749.60" x2="550.75" y2="749.60"/>
<line x1="548.75" y1="802.30" x2="548.75" y2="863.06" stroke-width="1.8" stroke-dasharray="4.6 5.1 1.9 5.1"/>
<line x1="546.75" y1="863.06" x2="550.75" y2="863.06"/>
<line x1="581.71" y1="733.90" x2="581.71" y2="673.81" stroke-width="1.8" stroke-dasharray="4.6 5.1 1.9 5.1"/>
<line x1="579.71" y1="673.81" x2="583.71" y2="673.81"/>
<line x1="581.71" y1="743.90" x2="581.71" y2="843.62" stroke-width="1.8" stroke-dasharray="4.6 5.1 1.9 5.1"/>
<line x1="579.71" y1="843.62" x2="583.71" y2="843.62"/>
<line x1="614.68" y1="782.20" x2="614.68" y2="668.43" stroke-width="1.8" stroke-dasharray="4.6 5.1 1.9 5.1"/>
<line x1="612.68" y1="668.43" x2="616.68" y2="668.43"/>
<line x1="614.68" y1="792.20" x2="614.68" y2="955.97" stroke-width="1.8" stroke-dasharray="4.6 5.1 1.9 5.1"/>
</g>
<g clip-path="url(#cr)">
<ellipse cx="153.17" cy="867.50" rx="5.0" ry="4.9" fill="#694b31"/>
<ellipse cx="186.13" cy="808.40" rx="5.0" ry="4.9" fill="#694b31"/>
<ellipse cx="219.10" cy="812.10" rx="5.0" ry="4.9" fill="#694b31"/>
<ellipse cx="252.06" cy="794.10" rx="5.0" ry="4.9" fill="#694b31"/>
<ellipse cx="285.03" cy="781.80" rx="5.0" ry="4.9" fill="#694b31"/>
<ellipse cx="317.99" cy="771.60" rx="5.0" ry="4.9" fill="#694b31"/>
<ellipse cx="350.96" cy="762.20" rx="5.0" ry="4.9" fill="#694b31"/>
<ellipse cx="383.92" cy="759.40" rx="5.0" ry="4.9" fill="#694b31"/>
<ellipse cx="416.89" cy="764.00" rx="5.0" ry="4.9" fill="#694b31"/>
<ellipse cx="449.85" cy="769.90" rx="5.0" ry="4.9" fill="#694b31"/>
<ellipse cx="482.82" cy="754.50" rx="5.0" ry="4.9" fill="#694b31"/>
<ellipse cx="515.78" cy="762.30" rx="5.0" ry="4.9" fill="#694b31"/>
<ellipse cx="548.75" cy="797.30" rx="5.0" ry="4.9" fill="#694b31"/>
<ellipse cx="581.71" cy="738.90" rx="5.0" ry="4.9" fill="#694b31"/>
<ellipse cx="614.68" cy="787.20" rx="5.0" ry="4.9" fill="#694b31"/>
</g>
<g clip-path="url(#cr)" stroke="#47871a" stroke-width="1.6" fill="none">
<polyline points="153.17,783.60 186.13,784.00 219.10,797.70 252.06,790.00 285.03,788.70 317.99,784.70 350.96,777.00 383.92,771.20 416.89,766.60 449.85,784.60 482.82,773.20 515.78,770.70 548.75,766.40 581.71,1020.47" stroke-dasharray="4.6 5.1 1.9 5.1"/>
<line x1="153.17" y1="778.60" x2="153.17" y2="768.02" stroke-width="1.8" stroke-dasharray="4.6 5.1 1.9 5.1"/>
<line x1="151.17" y1="768.02" x2="155.17" y2="768.02"/>
<line x1="153.17" y1="788.60" x2="153.17" y2="804.80" stroke-width="1.8" stroke-dasharray="4.6 5.1 1.9 5.1"/>
<line x1="151.17" y1="804.80" x2="155.17" y2="804.80"/>
<line x1="186.13" y1="779.00" x2="186.13" y2="778.82" stroke-width="1.8" stroke-dasharray="4.6 5.1 1.9 5.1"/>
<line x1="184.13" y1="778.82" x2="188.13" y2="778.82"/>
<line x1="186.13" y1="789.00" x2="186.13" y2="789.34" stroke-width="1.8" stroke-dasharray="4.6 5.1 1.9 5.1"/>
<line x1="184.13" y1="789.34" x2="188.13" y2="789.34"/>
<line x1="383.92" y1="766.20" x2="383.92" y2="765.17" stroke-width="1.8" stroke-dasharray="4.6 5.1 1.9 5.1"/>
<line x1="381.92" y1="765.17" x2="385.92" y2="765.17"/>
<line x1="383.92" y1="776.20" x2="383.92" y2="777.44" stroke-width="1.8" stroke-dasharray="4.6 5.1 1.9 5.1"/>
<line x1="381.92" y1="777.44" x2="385.92" y2="777.44"/>
<line x1="416.89" y1="761.60" x2="416.89" y2="758.55" stroke-width="1.8" stroke-dasharray="4.6 5.1 1.9 5.1"/>
<line x1="414.89" y1="758.55" x2="418.89" y2="758.55"/>
<line x1="416.89" y1="771.60" x2="416.89" y2="775.03" stroke-width="1.8" stroke-dasharray="4.6 5.1 1.9 5.1"/>
<line x1="414.89" y1="775.03" x2="418.89" y2="775.03"/>
<line x1="449.85" y1="779.60" x2="449.85" y2="773.57" stroke-width="1.8" stroke-dasharray="4.6 5.1 1.9 5.1"/>
<line x1="447.85" y1="773.57" x2="451.85" y2="773.57"/>
<line x1="449.85" y1="789.60" x2="449.85" y2="796.37" stroke-width="1.8" stroke-dasharray="4.6 5.1 1.9 5.1"/>
<line x1="447.85" y1="796.37" x2="451.85" y2="796.37"/>
<line x1="482.82" y1="768.20" x2="482.82" y2="756.50" stroke-width="1.8" stroke-dasharray="4.6 5.1 1.9 5.1"/>
<line x1="480.82" y1="756.50" x2="484.82" y2="756.50"/>
<line x1="482.82" y1="778.20" x2="482.82" y2="794.20" stroke-width="1.8" stroke-dasharray="4.6 5.1 1.9 5.1"/>
<line x1="480.82" y1="794.20" x2="484.82" y2="794.20"/>
<line x1="515.78" y1="765.70" x2="515.78" y2="744.70" stroke-width="1.8" stroke-dasharray="4.6 5.1 1.9 5.1"/>
<line x1="513.78" y1="744.70" x2="517.78" y2="744.70"/>
<line x1="515.78" y1="775.70" x2="515.78" y2="801.24" stroke-width="1.8" stroke-dasharray="4.6 5.1 1.9 5.1"/>
<line x1="513.78" y1="801.24" x2="517.78" y2="801.24"/>
<line x1="548.75" y1="761.40" x2="548.75" y2="721.39" stroke-width="1.8" stroke-dasharray="4.6 5.1 1.9 5.1"/>
<line x1="546.75" y1="721.39" x2="550.75" y2="721.39"/>
<line x1="548.75" y1="771.40" x2="548.75" y2="827.14" stroke-width="1.8" stroke-dasharray="4.6 5.1 1.9 5.1"/>
<line x1="546.75" y1="827.14" x2="550.75" y2="827.14"/>
</g>
<g clip-path="url(#cr)">
<polygon points="147.97,778.60 158.37,778.60 153.17,788.60" fill="#47871a"/>
<polygon points="180.93,779.00 191.33,779.00 186.13,789.00" fill="#47871a"/>
<polygon points="213.90,792.70 224.30,792.70 219.10,802.70" fill="#47871a"/>
<polygon points="246.86,785.00 257.26,785.00 252.06,795.00" fill="#47871a"/>
<polygon points="279.83,783.70 290.23,783.70 285.03,793.70" fill="#47871a"/>
<polygon points="312.79,779.70 323.19,779.70 317.99,789.70" fill="#47871a"/>
<polygon points="345.76,772.00 356.16,772.00 350.96,782.00" fill="#47871a"/>
<polygon points="378.72,766.20 389.12,766.20 383.92,776.20" fill="#47871a"/>
<polygon points="411.69,761.60 422.09,761.60 416.89,771.60" fill="#47871a"/>
<polygon points="444.65,779.60 455.05,779.60 449.85,789.60" fill="#47871a"/>
<polygon points="477.62,768.20 488.02,768.20 482.82,778.20" fill="#47871a"/>
<polygon points="510.58,765.70 520.98,765.70 515.78,775.70" fill="#47871a"/>
<polygon points="543.55,761.40 553.95,761.40 548.75,771.40" fill="#47871a"/>
</g>
</g>
<path d="M104.00 35.05V50.85M104.00 619.15V644.95M104.00 955.97V945.97M120.47 35.05V39.25M120.47 630.75V637.75M120.47 955.97V953.17M136.94 35.05V42.85M136.94 627.15V639.85M136.94 955.97V951.07M153.41 35.05V39.25M153.41 630.75V637.75M153.41 955.97V953.17M169.88 35.05V42.85M169.88 627.15V639.85M169.88 955.97V951.07M186.35 35.05V39.25M186.35 630.75V637.75M186.35 955.97V953.17M202.82 35.05V42.85M202.82 627.15V639.85M202.82 955.97V951.07M219.29 35.05V39.25M219.29 630.75V637.75M219.29 955.97V953.17M235.76 35.05V42.85M235.76 627.15V639.85M235.76 955.97V951.07M252.23 35.05V39.25M252.23 630.75V637.75M252.23 955.97V953.17M268.70 35.05V50.85M268.70 619.15V644.95M268.70 955.97V945.97M285.17 35.05V39.25M285.17 630.75V637.75M285.17 955.97V953.17M301.64 35.05V42.85M301.64 627.15V639.85M301.64 955.97V951.07M318.11 35.05V39.25M318.11 630.75V637.75M318.11 955.97V953.17M334.58 35.05V42.85M334.58 627.15V639.85M334.58 955.97V951.07M351.05 35.05V39.25M351.05 630.75V637.75M351.05 955.97V953.17M367.52 35.05V42.85M367.52 627.15V639.85M367.52 955.97V951.07M383.99 35.05V39.25M383.99 630.75V637.75M383.99 955.97V953.17M400.46 35.05V42.85M400.46 627.15V639.85M400.46 955.97V951.07M416.93 35.05V39.25M416.93 630.75V637.75M416.93 955.97V953.17M433.40 35.05V50.85M433.40 619.15V644.95M433.40 955.97V945.97M449.87 35.05V39.25M449.87 630.75V637.75M449.87 955.97V953.17M466.34 35.05V42.85M466.34 627.15V639.85M466.34 955.97V951.07M482.81 35.05V39.25M482.81 630.75V637.75M482.81 955.97V953.17M499.28 35.05V42.85M499.28 627.15V639.85M499.28 955.97V951.07M515.75 35.05V39.25M515.75 630.75V637.75M515.75 955.97V953.17M532.22 35.05V42.85M532.22 627.15V639.85M532.22 955.97V951.07M548.69 35.05V39.25M548.69 630.75V637.75M548.69 955.97V953.17M565.16 35.05V42.85M565.16 627.15V639.85M565.16 955.97V951.07M581.63 35.05V39.25M581.63 630.75V637.75M581.63 955.97V953.17M598.10 35.05V50.85M598.10 619.15V644.95M598.10 955.97V945.97M614.57 35.05V39.25M614.57 630.75V637.75M614.57 955.97V953.17M631.04 35.05V42.85M631.04 627.15V639.85M631.04 955.97V951.07M647.51 35.05V39.25M647.51 630.75V637.75M647.51 955.97V953.17M663.98 35.05V42.85M663.98 627.15V639.85M663.98 955.97V951.07M680.45 35.05V39.25M680.45 630.75V637.75M680.45 955.97V953.17M696.92 35.05V42.85M696.92 627.15V639.85M696.92 955.97V951.07M713.39 35.05V39.25M713.39 630.75V637.75M713.39 955.97V953.17M729.86 35.05V42.85M729.86 627.15V639.85M729.86 955.97V951.07" stroke="#000" stroke-width="1.8" fill="none"/>
<path d="M91.00 633.88H102.40M742.10 633.88H731.10M91.00 629.54H102.40M742.10 629.54H731.10M91.00 625.87H102.40M742.10 625.87H731.10M91.00 622.69H102.40M742.10 622.69H731.10M91.00 619.88H102.40M742.10 619.88H731.10M91.00 617.37H113.80M742.10 617.37H720.10M91.00 600.86H102.40M742.10 600.86H731.10M91.00 591.20H102.40M742.10 591.20H731.10M91.00 584.35H102.40M742.10 584.35H731.10M91.00 579.03H102.40M742.10 579.03H731.10M91.00 574.69H102.40M742.10 574.69H731.10M91.00 571.01H102.40M742.10 571.01H731.10M91.00 567.83H102.40M742.10 567.83H731.10M91.00 565.03H102.40M742.10 565.03H731.10M91.00 562.52H113.80M742.10 562.52H720.10M91.00 546.01H102.40M742.10 546.01H731.10M91.00 536.35H102.40M742.10 536.35H731.10M91.00 529.49H102.40M742.10 529.49H731.10M91.00 524.18H102.40M742.10 524.18H731.10M91.00 519.83H102.40M742.10 519.83H731.10M91.00 516.16H102.40M742.10 516.16H731.10M91.00 512.98H102.40M742.10 512.98H731.10M91.00 510.17H102.40M742.10 510.17H731.10M91.00 507.66H113.80M742.10 507.66H720.10M91.00 491.15H102.40M742.10 491.15H731.10M91.00 481.49H102.40M742.10 481.49H731.10M91.00 474.64H102.40M742.10 474.64H731.10M91.00 469.32H102.40M742.10 469.32H731.10M91.00 464.98H102.40M742.10 464.98H731.10M91.00 461.31H102.40M742.10 461.31H731.10M91.00 458.13H102.40M742.10 458.13H731.10M91.00 455.32H102.40M742.10 455.32H731.10M91.00 452.81H113.80M742.10 452.81H720.10M91.00 436.30H102.40M742.10 436.30H731.10M91.00 426.64H102.40M742.10 426.64H731.10M91.00 419.79H102.40M742.10 419.79H731.10M91.00 414.47H102.40M742.10 414.47H731.10M91.00 410.13H102.40M742.10 410.13H731.10M91.00 406.46H102.40M742.10 406.46H731.10M91.00 403.27H102.40M742.10 403.27H731.10M91.00 400.47H102.40M742.10 400.47H731.10M91.00 397.96H113.80M742.10 397.96H720.10M91.00 381.45H102.40M742.10 381.45H731.10M91.00 371.79H102.40M742.10 371.79H731.10M91.00 364.93H102.40M742.10 364.93H731.10M91.00 359.62H102.40M742.10 359.62H731.10M91.00 355.28H102.40M742.10 355.28H731.10M91.00 351.60H102.40M742.10 351.60H731.10M91.00 348.42H102.40M742.10 348.42H731.10M91.00 345.62H102.40M742.10 345.62H731.10M91.00 343.11H113.80M742.10 343.11H720.10M91.00 326.59H102.40M742.10 326.59H731.10M91.00 316.93H102.40M742.10 316.93H731.10M91.00 310.08H102.40M742.10 310.08H731.10M91.00 304.77H102.40M742.10 304.77H731.10M91.00 300.42H102.40M742.10 300.42H731.10M91.00 296.75H102.40M742.10 296.75H731.10M91.00 293.57H102.40M742.10 293.57H731.10M91.00 290.76H102.40M742.10 290.76H731.10M91.00 288.25H113.80M742.10 288.25H720.10M91.00 271.74H102.40M742.10 271.74H731.10M91.00 262.08H102.40M742.10 262.08H731.10M91.00 255.23H102.40M742.10 255.23H731.10M91.00 249.91H102.40M742.10 249.91H731.10M91.00 245.57H102.40M742.10 245.57H731.10M91.00 241.90H102.40M742.10 241.90H731.10M91.00 238.72H102.40M742.10 238.72H731.10M91.00 235.91H102.40M742.10 235.91H731.10M91.00 233.40H113.80M742.10 233.40H720.10M91.00 216.89H102.40M742.10 216.89H731.10M91.00 207.23H102.40M742.10 207.23H731.10M91.00 200.38H102.40M742.10 200.38H731.10M91.00 195.06H102.40M742.10 195.06H731.10M91.00 190.72H102.40M742.10 190.72H731.10M91.00 187.04H102.40M742.10 187.04H731.10M91.00 183.86H102.40M742.10 183.86H731.10M91.00 181.06H102.40M742.10 181.06H731.10M91.00 178.55H113.80M742.10 178.55H720.10M91.00 162.03H102.40M742.10 162.03H731.10M91.00 152.38H102.40M742.10 152.38H731.10M91.00 145.52H102.40M742.10 145.52H731.10M91.00 140.21H102.40M742.10 140.21H731.10M91.00 135.86H102.40M742.10 135.86H731.10M91.00 132.19H102.40M742.10 132.19H731.10M91.00 129.01H102.40M742.10 129.01H731.10M91.00 126.20H102.40M742.10 126.20H731.10M91.00 123.69H113.80M742.10 123.69H720.10M91.00 107.18H102.40M742.10 107.18H731.10M91.00 97.52H102.40M742.10 97.52H731.10M91.00 90.67H102.40M742.10 90.67H731.10M91.00 85.35H102.40M742.10 85.35H731.10M91.00 81.01H102.40M742.10 81.01H731.10M91.00 77.34H102.40M742.10 77.34H731.10M91.00 74.16H102.40M742.10 74.16H731.10M91.00 71.35H102.40M742.10 71.35H731.10M91.00 68.84H113.80M742.10 68.84H720.10M91.00 52.33H102.40M742.10 52.33H731.10M91.00 42.67H102.40M742.10 42.67H731.10M91.00 35.82H102.40M742.10 35.82H731.10M91.00 916.88H105.60M742.10 916.88H727.50M91.00 884.94H101.00M742.10 884.94H732.10M91.00 857.94H101.00M742.10 857.94H732.10M91.00 834.55H101.00M742.10 834.55H732.10M91.00 813.92H101.00M742.10 813.92H732.10M91.00 795.46H105.60M742.10 795.46H727.50M91.00 778.76H101.00M742.10 778.76H732.10M91.00 763.52H101.00M742.10 763.52H732.10M91.00 749.50H101.00M742.10 749.50H732.10M91.00 736.52H101.00M742.10 736.52H732.10M91.00 724.43H105.60M742.10 724.43H727.50M91.00 713.13H101.00M742.10 713.13H732.10M91.00 702.51H101.00M742.10 702.51H732.10M91.00 692.50H101.00M742.10 692.50H732.10M91.00 683.03H101.00M742.10 683.03H732.10M91.00 674.04H105.60M742.10 674.04H727.50M91.00 665.49H101.00M742.10 665.49H732.10M91.00 657.34H101.00M742.10 657.34H732.10M91.00 649.56H101.00M742.10 649.56H732.10M91.00 642.10H101.00M742.10 642.10H732.10" stroke="#000" stroke-width="1.15" fill="none"/>
<rect x="91.0" y="35.05" width="651.1" height="599.9000000000001" fill="none" stroke="#000" stroke-width="1.85"/>
<rect x="91.0" y="634.95" width="651.1" height="321.02" fill="none" stroke="#000" stroke-width="1.85"/>
<text transform="translate(102.62 29.00) rotate(0.03) scale(0.9300 1)" font-size="25.4" fill="#000" letter-spacing="0.412" stroke="#000" stroke-width="0.22">7000 GeV pp</text>
<text transform="translate(687.05 29.00) rotate(0.03) scale(0.9300 1)" font-size="25.4" fill="#000" letter-spacing="0.263" stroke="#000" stroke-width="0.22">Jets</text>
<text transform="translate(164.37 85.00) rotate(0.03) scale(0.9300 1)" font-size="25.2" fill="#000" letter-spacing="0.365" stroke="#000" stroke-width="0.22">Filtered AK7 dijets, (p</text>
<text transform="translate(392.74 74.10) rotate(0.03) scale(1.0000 1)" font-size="15.5" fill="#000" letter-spacing="0.574" stroke="#000" stroke-width="0.22">1</text>
<text transform="translate(391.95 96.20) rotate(0.03) scale(1.0000 1)" font-size="15.6" fill="#000" letter-spacing="0.577" stroke="#000" stroke-width="0.22">T</text>
<text transform="translate(408.89 85.00) rotate(0.03) scale(0.9300 1)" font-size="25.2" fill="#000" letter-spacing="0.070" stroke="#000" stroke-width="0.22">+ p</text>
<text transform="translate(441.84 74.10) rotate(0.03) scale(1.0000 1)" font-size="15.3" fill="#000" letter-spacing="0.566" stroke="#000" stroke-width="0.22">2</text>
<text transform="translate(441.95 96.20) rotate(0.03) scale(1.0000 1)" font-size="15.6" fill="#000" letter-spacing="0.577" stroke="#000" stroke-width="0.22">T</text>
<text transform="translate(453.12 85.00) rotate(0.03) scale(0.9300 1)" font-size="25.2" fill="#000" letter-spacing="0.338" stroke="#000" stroke-width="0.22">) / 2 = 300--450 GeV</text>
<text transform="translate(97.11 978.90) rotate(0.03) scale(0.9150 1)" font-size="25.1" fill="#000" letter-spacing="0.470" stroke="#000" stroke-width="0.22">0</text>
<text transform="translate(255.21 978.90) rotate(0.03) scale(0.9150 1)" font-size="25.1" fill="#000" letter-spacing="0.470" stroke="#000" stroke-width="0.22">50</text>
<text transform="translate(413.31 978.90) rotate(0.03) scale(0.9150 1)" font-size="25.1" fill="#000" letter-spacing="0.470" stroke="#000" stroke-width="0.22">100</text>
<text transform="translate(578.01 978.90) rotate(0.03) scale(0.9150 1)" font-size="25.1" fill="#000" letter-spacing="0.470" stroke="#000" stroke-width="0.22">150</text>
<text transform="translate(499.28 1006.60) rotate(0.03) scale(0.9300 1)" font-size="26.2" fill="#000" letter-spacing="0.458" stroke="#000" stroke-width="0.22">(m_1 + m_2) / 2 [GeV]</text>
<text transform="translate(71.06 618.47) rotate(0.03) scale(0.9700 1)" font-size="15.4" fill="#000" letter-spacing="0.570" stroke="#000" stroke-width="0.22">7</text>
<text transform="translate(61.57 619.57) rotate(0.03) scale(0.9500 1)" font-size="15.4" fill="#000" letter-spacing="0.570" stroke="#000" stroke-width="0.22">−</text>
<text transform="translate(38.69 627.37) rotate(0.03) scale(0.9300 1)" font-size="22.4" fill="#000" letter-spacing="0.829" stroke="#000" stroke-width="0.22">10</text>
<text transform="translate(70.94 563.62) rotate(0.03) scale(0.9700 1)" font-size="15.4" fill="#000" letter-spacing="0.570" stroke="#000" stroke-width="0.22">6</text>
<text transform="translate(61.57 564.72) rotate(0.03) scale(0.9500 1)" font-size="15.4" fill="#000" letter-spacing="0.570" stroke="#000" stroke-width="0.22">−</text>
<text transform="translate(38.69 572.52) rotate(0.03) scale(0.9300 1)" font-size="22.4" fill="#000" letter-spacing="0.829" stroke="#000" stroke-width="0.22">10</text>
<text transform="translate(70.91 508.76) rotate(0.03) scale(0.9700 1)" font-size="15.4" fill="#000" letter-spacing="0.570" stroke="#000" stroke-width="0.22">5</text>
<text transform="translate(61.57 509.87) rotate(0.03) scale(0.9500 1)" font-size="15.4" fill="#000" letter-spacing="0.570" stroke="#000" stroke-width="0.22">−</text>
<text transform="translate(38.69 517.66) rotate(0.03) scale(0.9300 1)" font-size="22.4" fill="#000" letter-spacing="0.829" stroke="#000" stroke-width="0.22">10</text>
<text transform="translate(70.72 453.91) rotate(0.03) scale(0.9700 1)" font-size="15.4" fill="#000" letter-spacing="0.570" stroke="#000" stroke-width="0.22">4</text>
<text transform="translate(61.57 455.01) rotate(0.03) scale(0.9500 1)" font-size="15.4" fill="#000" letter-spacing="0.570" stroke="#000" stroke-width="0.22">−</text>
<text transform="translate(38.69 462.81) rotate(0.03) scale(0.9300 1)" font-size="22.4" fill="#000" letter-spacing="0.829" stroke="#000" stroke-width="0.22">10</text>
<text transform="translate(70.94 399.06) rotate(0.03) scale(0.9700 1)" font-size="15.4" fill="#000" letter-spacing="0.570" stroke="#000" stroke-width="0.22">3</text>
<text transform="translate(61.57 400.16) rotate(0.03) scale(0.9500 1)" font-size="15.4" fill="#000" letter-spacing="0.570" stroke="#000" stroke-width="0.22">−</text>
<text transform="translate(38.69 407.96) rotate(0.03) scale(0.9300 1)" font-size="22.4" fill="#000" letter-spacing="0.829" stroke="#000" stroke-width="0.22">10</text>
<text transform="translate(71.06 344.21) rotate(0.03) scale(0.9700 1)" font-size="15.4" fill="#000" letter-spacing="0.570" stroke="#000" stroke-width="0.22">2</text>
<text transform="translate(61.57 345.31) rotate(0.03) scale(0.9500 1)" font-size="15.4" fill="#000" letter-spacing="0.570" stroke="#000" stroke-width="0.22">−</text>
<text transform="translate(38.69 353.11) rotate(0.03) scale(0.9300 1)" font-size="22.4" fill="#000" letter-spacing="0.829" stroke="#000" stroke-width="0.22">10</text>
<text transform="translate(73.63 289.35) rotate(0.03) scale(0.9300 1)" font-size="15.4" fill="#000" letter-spacing="0.570" stroke="#000" stroke-width="0.22">1</text>
<text transform="translate(64.27 290.45) rotate(0.03) scale(0.9500 1)" font-size="15.4" fill="#000" letter-spacing="0.570" stroke="#000" stroke-width="0.22">−</text>
<text transform="translate(41.39 298.25) rotate(0.03) scale(0.9300 1)" font-size="22.4" fill="#000" letter-spacing="0.829" stroke="#000" stroke-width="0.22">10</text>
<text transform="translate(70.73 241.80) rotate(0.03) scale(0.9300 1)" font-size="22.4" fill="#000" letter-spacing="0.829" stroke="#000" stroke-width="0.22">1</text>
<text transform="translate(55.39 186.95) rotate(0.03) scale(0.9300 1)" font-size="22.4" fill="#000" letter-spacing="0.829" stroke="#000" stroke-width="0.22">10</text>
<text transform="translate(71.06 124.79) rotate(0.03) scale(0.9700 1)" font-size="15.4" fill="#000" letter-spacing="0.570" stroke="#000" stroke-width="0.22">2</text>
<text transform="translate(47.39 133.69) rotate(0.03) scale(0.9300 1)" font-size="22.4" fill="#000" letter-spacing="0.829" stroke="#000" stroke-width="0.22">10</text>
<text transform="translate(70.94 69.94) rotate(0.03) scale(0.9700 1)" font-size="15.4" fill="#000" letter-spacing="0.570" stroke="#000" stroke-width="0.22">3</text>
<text transform="translate(47.39 78.84) rotate(0.03) scale(0.9300 1)" font-size="22.4" fill="#000" letter-spacing="0.829" stroke="#000" stroke-width="0.22">10</text>
<text transform="translate(63.34 682.99) rotate(0.03) scale(1.0000 1)" font-size="25.1" fill="#000" letter-spacing="0.929" stroke="#000" stroke-width="0.22">2</text>
<text transform="translate(65.94 804.76) rotate(0.03) scale(0.9150 1)" font-size="25.1" fill="#000" letter-spacing="0.929" stroke="#000" stroke-width="0.22">1</text>
<text transform="translate(44.29 925.68) rotate(0.03) scale(0.9150 1)" font-size="25.1" fill="#000" letter-spacing="0.470" stroke="#000" stroke-width="0.22">0.5</text>
<text transform="translate(747.64 682.99) rotate(0.03) scale(1.0000 1)" font-size="25.1" fill="#000" letter-spacing="0.929" stroke="#000" stroke-width="0.22">2</text>
<text transform="translate(747.68 804.76) rotate(0.03) scale(0.9150 1)" font-size="25.1" fill="#000" letter-spacing="0.929" stroke="#000" stroke-width="0.22">1</text>
<text transform="translate(747.78 925.68) rotate(0.03) scale(0.9150 1)" font-size="25.1" fill="#000" letter-spacing="0.470" stroke="#000" stroke-width="0.22">0.5</text>
<text transform="translate(33.30 419.54) rotate(-90.03) scale(0.9300 1)" font-size="25.0" fill="#000" letter-spacing="0.925" stroke="#000" stroke-width="0.22">1000/</text>
<text transform="translate(33.30 358.26) rotate(-90.03) scale(1.0000 1)" font-size="25.0" fill="#000" letter-spacing="0.925" stroke="#000" stroke-width="0.22">σ</text>
<text transform="translate(33.30 323.96) rotate(-90.03) scale(0.9300 1)" font-size="25.0" fill="#000" letter-spacing="1.837" stroke="#000" stroke-width="0.22">2d</text>
<text transform="translate(33.30 301.75) rotate(-90.03) scale(1.0800 1)" font-size="25.0" fill="#000" letter-spacing="0.925" stroke="#000" stroke-width="0.22">σ</text>
<text transform="translate(33.30 285.17) rotate(-90.03) scale(0.9300 1)" font-size="25.0" fill="#000" letter-spacing="0.518" stroke="#000" stroke-width="0.22">)/d(m_1 + m_2) [1/GeV]</text>
<text transform="translate(36.80 846.65) rotate(-90.03) scale(0.9300 1)" font-size="18.9" fill="#000" letter-spacing="0.196" stroke="#000" stroke-width="0.3">Ratio to CMS</text>
<text transform="translate(760.70 253.89) rotate(-90.03) scale(0.9300 1)" font-size="19.4" fill="#7a7a7a" letter-spacing="0.385" stroke="#7a7a7a" stroke-width="0.3">Rivet 4.1.0, ≥ 100k events</text>
<text transform="translate(762.30 629.03) rotate(-90.03) scale(0.9300 1)" font-size="19.6" fill="#7a7a7a" letter-spacing="0.413" stroke="#7a7a7a" stroke-width="0.3">mcplots.cern.ch [arXiv:2401.10621]</text>
<text transform="translate(333.45 604.20) rotate(0.03) scale(0.9300 1)" font-size="16.3" fill="#9c9c9c" letter-spacing="0.441" stroke="#9c9c9c" stroke-width="0.25">(CMS_2013_I1224539)</text>
<rect x="147.45" y="442.55" width="11.1" height="11.1" fill="#000"/>
<text transform="translate(186.67 454.45) rotate(0.03) scale(0.9300 1)" font-size="19.9" fill="#000" letter-spacing="1.197" stroke="#000" stroke-width="0.3">CMS</text>
<line x1="128.7" y1="474.0" x2="175.2" y2="474.0" stroke="#652d4f" stroke-width="1.45" stroke-dasharray="7 4.1 1.5 4.1"/>
<rect x="148.40" y="469.55" width="9.4" height="8.9" fill="none" stroke="#652d4f" stroke-width="1.45"/>
<text transform="translate(186.97 480.50) rotate(0.03) scale(0.9300 1)" font-size="19.9" fill="#000" letter-spacing="0.252" stroke="#000" stroke-width="0.3">Pythia 6.428 391</text>
<line x1="128.7" y1="500.1" x2="175.2" y2="500.1" stroke="#7b6c3b" stroke-width="1.45" stroke-dasharray="4.2 5.5 1.5 5.5"/>
<polygon points="151.65,495.40 154.55,495.40 154.55,498.65 157.80,498.65 157.80,501.55 154.55,501.55 154.55,504.80 151.65,504.80 151.65,501.55 148.40,501.55 148.40,498.65 151.65,498.65" fill="none" stroke="#7b6c3b" stroke-width="1.15"/>
<text transform="translate(186.97 506.60) rotate(0.03) scale(0.9300 1)" font-size="19.9" fill="#000" letter-spacing="0.245" stroke="#000" stroke-width="0.3">Pythia 6.428 393</text>
<line x1="128.7" y1="526.2" x2="175.2" y2="526.2" stroke="#694b31" stroke-width="1.45" stroke-dasharray="4.2 5.5 1.5 5.5"/>
<ellipse cx="153.10" cy="526.20" rx="5.0" ry="4.9" fill="#694b31"/>
<text transform="translate(186.97 532.70) rotate(0.03) scale(0.9300 1)" font-size="19.9" fill="#000" letter-spacing="0.225" stroke="#000" stroke-width="0.3">Pythia 6.428 394</text>
<line x1="128.7" y1="552.3" x2="175.2" y2="552.3" stroke="#47871a" stroke-width="1.45" stroke-dasharray="4.2 5.5 1.5 5.5"/>
<polygon points="147.90,547.30 158.30,547.30 153.10,557.30" fill="#47871a"/>
<text transform="translate(186.97 558.80) rotate(0.03) scale(0.9300 1)" font-size="19.9" fill="#000" letter-spacing="0.242" stroke="#000" stroke-width="0.3">Pythia 6.428 395</text>
</svg>
</body>
</html>
